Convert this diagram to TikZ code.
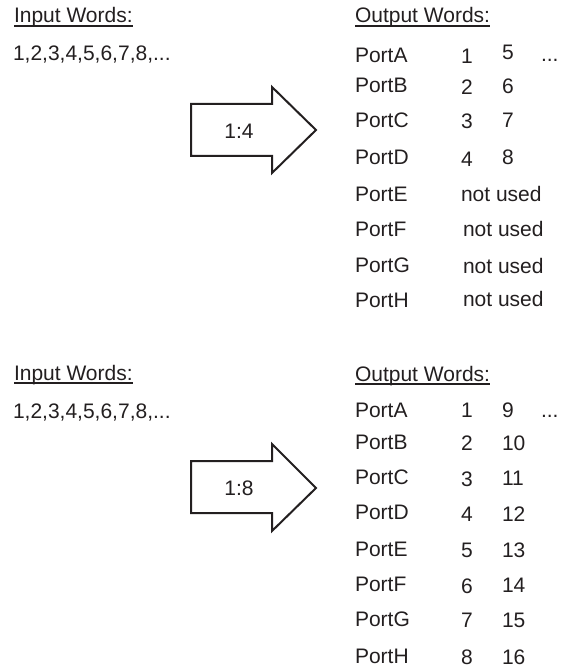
\documentclass[tikz,border=0pt]{standalone}
\usepackage{fontspec}
\setmainfont{Liberation Sans}
\definecolor{txt}{RGB}{35,31,32}
\begin{document}
\begin{tikzpicture}[x=1pt,y=-1pt,
  lbl/.style={inner sep=0pt,outer sep=0pt,anchor=base west,text=txt,font=\fontsize{21}{25}\selectfont},
  ctr/.style={inner sep=0pt,outer sep=0pt,anchor=center,text=txt,font=\fontsize{21}{25}\selectfont},
  ul/.style={draw=txt,line width=1.2pt},
  bigarrow/.style={draw=txt,line width=2pt,line join=miter,fill=white}]
\useasboundingbox (0,0) rectangle (560,668);
% ---------- top section ----------
\node[lbl] (iw1) at (14,23) {Input Words:};
\draw[ul] ([yshift=-3pt]iw1.base west) -- ([yshift=-3pt]iw1.base east);
\node[lbl] (in1) at (13,61) {1,2,3,4,5,6,7,8,...};
\draw[bigarrow] (191,104) -- (272,104) -- (272,87) -- (316,130) -- (272,173) -- (272,156) -- (191,156) -- cycle;
\node[ctr] (r1) at (239,131) {1:4};
\node[lbl] (ow1) at (355,23) {Output Words:};
\draw[ul] ([yshift=-3pt]ow1.base west) -- ([yshift=-3pt]ow1.base east);
\node[lbl] (pa1) at (355,63) {PortA};
\node[lbl] (pb1) at (355,93) {PortB};
\node[lbl] (pc1) at (355,128) {PortC};
\node[lbl] (pd1) at (355,165) {PortD};
\node[lbl] (pe1) at (355,202) {PortE};
\node[lbl] (pf1) at (355,236) {PortF};
\node[lbl] (pg1) at (355,272) {PortG};
\node[lbl] (ph1) at (355,307) {PortH};
\node[lbl] (a1a) at (461,64) {1};
\node[lbl] (a1b) at (502,60) {5};
\node[lbl] (a1c) at (541,62) {...};
\node[lbl] (b1a) at (461,95) {2};
\node[lbl] (b1b) at (502,94) {6};
\node[lbl] (c1a) at (461,129) {3};
\node[lbl] (c1b) at (502,128) {7};
\node[lbl] (d1a) at (461,167) {4};
\node[lbl] (d1b) at (502,165) {8};
\node[lbl] (e1a) at (461,202) {not used};
\node[lbl] (f1a) at (463,236) {not used};
\node[lbl] (g1a) at (463,273) {not used};
\node[lbl] (h1a) at (463,306) {not used};
% ---------- bottom section ----------
\node[lbl] (iw2) at (14,380) {Input Words:};
\draw[ul] ([yshift=-3pt]iw2.base west) -- ([yshift=-3pt]iw2.base east);
\node[lbl] (in2) at (13,418) {1,2,3,4,5,6,7,8,...};
\draw[bigarrow] (191,461) -- (272,461) -- (272,444) -- (316,488) -- (272,531) -- (272,513) -- (191,513) -- cycle;
\node[ctr] (r2) at (239,488) {1:8};
\node[lbl] (ow2) at (355,381) {Output Words:};
\draw[ul] ([yshift=-3pt]ow2.base west) -- ([yshift=-3pt]ow2.base east);
\node[lbl] (pa2) at (355,417) {PortA};
\node[lbl] (pb2) at (355,449) {PortB};
\node[lbl] (pc2) at (355,484) {PortC};
\node[lbl] (pd2) at (355,519) {PortD};
\node[lbl] (pe2) at (355,556) {PortE};
\node[lbl] (pf2) at (355,591) {PortF};
\node[lbl] (pg2) at (355,626) {PortG};
\node[lbl] (ph2) at (355,663) {PortH};
\node[lbl] (a2a) at (461,417) {1};
\node[lbl] (a2b) at (502,417) {9};
\node[lbl] (a2c) at (541,417) {...};
\node[lbl] (b2a) at (461,450) {2};
\node[lbl] (b2b) at (502,450) {10};
\node[lbl] (c2a) at (461,486) {3};
\node[lbl] (c2b) at (502,485) {11};
\node[lbl] (d2a) at (461,521) {4};
\node[lbl] (d2b) at (502,521) {12};
\node[lbl] (e2a) at (461,557) {5};
\node[lbl] (e2b) at (502,557) {13};
\node[lbl] (f2a) at (461,593) {6};
\node[lbl] (f2b) at (502,592) {14};
\node[lbl] (g2a) at (461,627) {7};
\node[lbl] (g2b) at (502,627) {15};
\node[lbl] (h2a) at (461,664) {8};
\node[lbl] (h2b) at (502,664) {16};
\end{tikzpicture}
\end{document}
